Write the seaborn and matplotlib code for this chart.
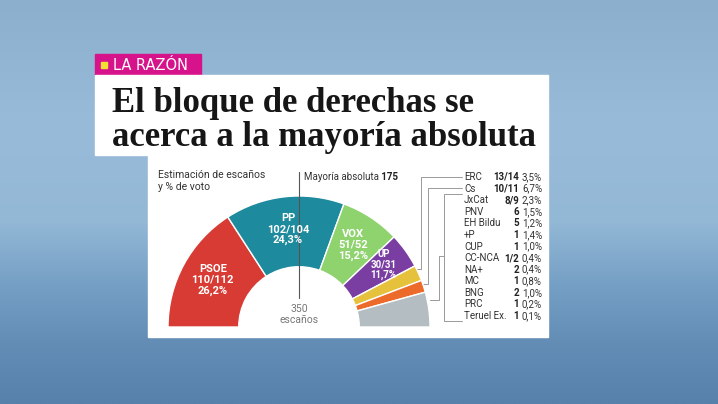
import matplotlib.pyplot as plt
import numpy as np
import seaborn as sns
from matplotlib.colors import to_rgb
from matplotlib.patches import Rectangle

W, H = 718, 404

# seats shown inside the hemicycle
main_parties = ["PSOE", "PP", "VOX", "UP", "ERC", "Cs"]
main_seat_labels = ["110/112", "102/104", "51/52", "30/31", "13/14", "10/11"]
main_vote_labels = ["26,2%", "24,3%", "15,2%", "11,7%", "3,5%", "6,7%"]
party_colors = ["#d83b33", "#1d8a9e", "#8fd36f", "#7a3ea3", "#e6c23c", "#ec6a2a"]
others_color = "#b4bdc1"

# list on the right
legend_parties = ["ERC", "Cs", "JxCat", "PNV", "EH Bildu", "+P", "CUP", "CC-NCA",
                  "NA+", "MC", "BNG", "PRC", "Teruel Ex."]
legend_seats = ["13/14", "10/11", "8/9", "6", "5", "1", "1", "1/2", "2", "1", "2", "1", "1"]
legend_votes = ["3,5%", "6,7%", "2,3%", "1,5%", "1,2%", "1,4%", "1,0%", "0,4%",
                "0,4%", "0,8%", "1,0%", "0,2%", "0,1%"]

total_seats = 350
majority = 175

title_lines = ["El bloque de derechas se", "acerca a la mayoría absoluta"]
brand = "LA RAZÓN"


def seat_mid(label):
  parts = [float(p) for p in label.split("/")]
  return sum(parts) / len(parts)


sns.set_theme(style="white")
plt.rcParams["font.family"] = ["Roboto", "DejaVu Sans"]

fig = plt.figure(figsize=(W / 100, H / 100), dpi=100)

# background (blurred studio screen)
bg = fig.add_axes([0, 0, 1, 1])
stops = [0.0, 0.3, 0.55, 0.7, 0.85, 1.0]
cols = ["#8cafce", "#98bbd9", "#93b8d6", "#76a0c5", "#648db6", "#5780aa"]
yy = np.linspace(0, 1, 200)
grad = np.stack([np.interp(yy, stops, [to_rgb(c)[k] for c in cols]) for k in range(3)], axis=-1)
bg.imshow(grad[:, None, :], extent=[0, W, H, 0], aspect="auto", zorder=0)
bg.set_xlim(0, W)
bg.set_ylim(H, 0)
bg.axis("off")

# brand tag + title box + chart panel
bg.add_patch(Rectangle((95, 54), 106, 21, color="#d6138a", zorder=1))
bg.add_patch(Rectangle((101, 62), 6, 6, color="#f4e032", zorder=2))
bg.text(113, 65, brand, color="white", fontsize=10.5, va="center", ha="left",
        family=["DejaVu Sans"], zorder=2)
bg.add_patch(Rectangle((95, 75), 453, 80, color="white", zorder=1))
bg.add_patch(Rectangle((148, 154), 400, 183, color="white", zorder=1))
bg.text(112, 112, title_lines[0], fontsize=25, fontweight="bold", color="#161616",
        family=["Liberation Serif", "DejaVu Serif"], va="baseline", zorder=2)
bg.text(112, 146, title_lines[1], fontsize=25, fontweight="bold", color="#161616",
        family=["Liberation Serif", "DejaVu Serif"], va="baseline", zorder=2)

bg.text(158, 181, "Estimación de escaños\ny % de voto", fontsize=7.5, color="#333333",
        va="center", ha="left", linespacing=1.15, zorder=2)

# connectors from the list to the small wedges
line_kw = dict(color="#9a9a9a", lw=0.7, zorder=2)
bg.plot([462, 421, 421, 416], [177, 177, 269, 269], **line_kw)
bg.plot([462, 428, 428, 423], [188, 188, 284, 284], **line_kw)
bg.plot([462, 444, 444, 462], [194, 194, 321, 321], **line_kw)
bg.plot([444, 439, 439, 430], [256, 256, 300, 300], **line_kw)

# list of parties
row_y = np.linspace(177, 316, len(legend_parties))
for y, name, seats, vote in zip(row_y, legend_parties, legend_seats, legend_votes):
  bg.text(464, y, name, fontsize=7, color="#333333", va="center", ha="left", zorder=3)
  bg.text(519, y, seats, fontsize=7, color="#222222", fontweight="bold", va="center", ha="right", zorder=3)
  bg.text(522, y, vote, fontsize=7, color="#333333", va="center", ha="left", zorder=3)

# hemicycle
main_values = [seat_mid(s) for s in main_seat_labels]
others_value = total_seats - sum(main_values)
values = main_values + [others_value, total_seats]
colors = party_colors + [others_color, "white"]

ax = fig.add_axes([168 / W, (H - 327) / H, 262 / W, 131 / H])
ax.patch.set_alpha(0)
wedges, _ = ax.pie(values, colors=colors, startangle=180, counterclock=False, radius=1,
                   wedgeprops=dict(width=0.54, edgecolor="white", linewidth=1.0))
wedges[-1].set_visible(False)
ax.set_xlim(-1, 1)
ax.set_ylim(0, 1)
ax.set_aspect("auto")
ax.axis("off")

for w, name, seats, vote in zip(wedges[:4], main_parties, main_seat_labels, main_vote_labels):
  span = w.theta2 - w.theta1
  narrow = span < 20
  ang = np.deg2rad(w.theta2 - span * (0.45 if narrow else 0.5))
  r = 0.8 if narrow else 0.75
  ax.text(r * np.cos(ang), r * np.sin(ang), f"{name}\n{seats}\n{vote}", color="white",
          fontsize=7 if narrow else 8, fontweight="bold", ha="center", va="center",
          linespacing=1.05 if narrow else 1.1)

# absolute majority marker
maj_x = np.cos(np.pi * (1 - majority / total_seats))
ax.plot([maj_x, maj_x], [0.22, 1.18], color="#555555", lw=0.8, clip_on=False)
t = ax.text(maj_x + 0.04, 1.145, "Mayoría absoluta", fontsize=7, color="#333333",
            ha="left", va="center")
ax.annotate(f" {majority}", xy=(1, 0.5), xycoords=t, fontsize=7, fontweight="bold",
            color="#222222", ha="left", va="center")
ax.text(0, 0.095, f"{total_seats}\nescaños", fontsize=7.5, color="#777777",
        ha="center", va="center", linespacing=1.2)

fig.savefig("out.png", dpi=100)
plt.close(fig)
